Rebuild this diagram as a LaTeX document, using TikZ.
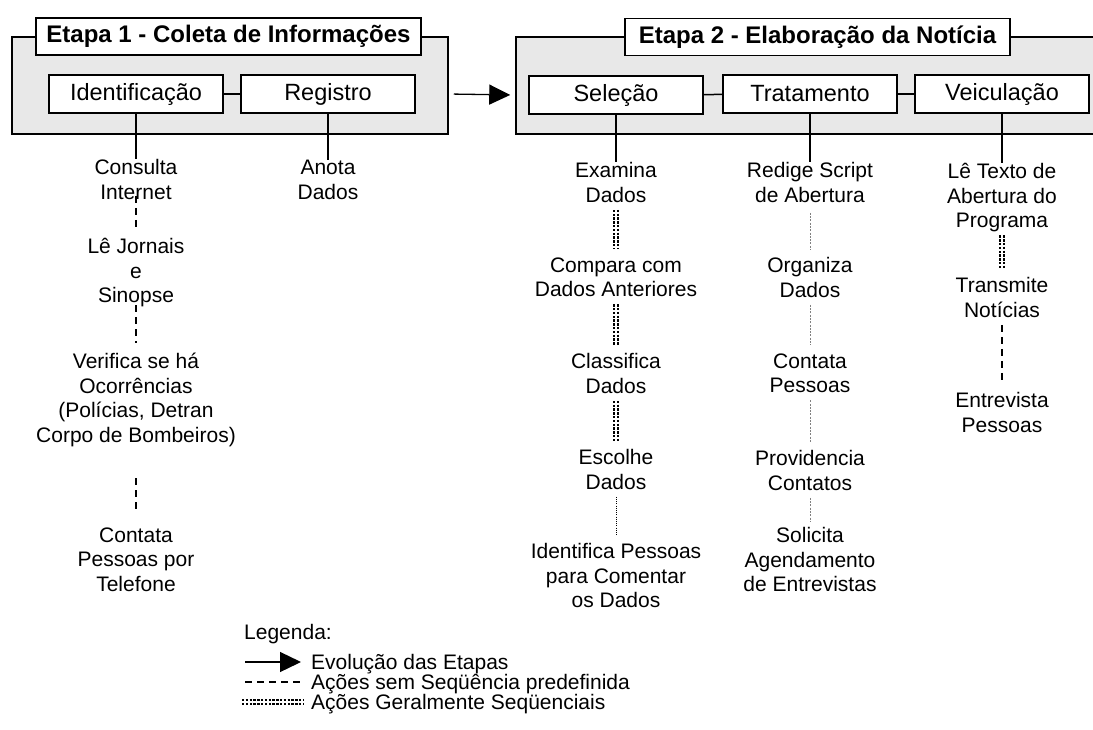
\documentclass[tikz,border=0pt]{standalone}
\usepackage{fontspec}
\setmainfont{Liberation Sans}
\usetikzlibrary{arrows.meta,positioning}
\definecolor{fundo}{RGB}{232,232,232}

\begin{document}
\begin{tikzpicture}[x=1pt,y=-1pt]
		\tikzset{bloco/.style={draw,line width=1.5pt,fill=fundo,inner sep=0pt}}
		\tikzset{titulo/.style={draw,line width=1.5pt,fill=white,minimum width=385pt,minimum height=37pt,inner sep=0pt,font=\fontsize{24}{28}\selectfont\bfseries}}
		\tikzset{fase/.style={draw,line width=1.5pt,fill=white,minimum width=174pt,minimum height=38pt,inner sep=0pt,font=\fontsize{23.5}{28}\selectfont}}
		\tikzset{acao/.style={align=center,anchor=north,inner sep=0pt,yshift=9.7pt,font=\fontsize{21}{24.5}\selectfont,execute at begin node=\strut,execute at end node=\strut}}
		\tikzset{legenda/.style={anchor=west,inner sep=0pt,text height=16pt,text depth=1pt,font=\fontsize{21}{24.5}\selectfont}}
		\tikzset{liga/.style={line width=1.5pt}}
		\tikzset{evolui/.style={line width=1.3pt,-{Triangle[length=21pt,width=20pt]}}}
		\tikzset{livre/.style={line width=1.3pt,dash pattern=on 7pt off 5pt,shorten >=8pt}}
		\tikzset{seq/.style={line width=2.4pt,double=white,double distance=2pt,dash pattern=on 2.4pt off 1.4pt,shorten >=8pt}}
		\tikzset{fino/.style={line width=0.7pt,gray,dash pattern=on 2pt off 1.3pt,shorten >=8pt}}
		\tikzset{ponto/.style={line width=1pt,dash pattern=on 1pt off 1.2pt,shorten >=8pt}}

		\useasboundingbox (0,0) rectangle (1093,729);

		% etapa 1
		\node[bloco,minimum width=436pt,minimum height=97pt] (bloco1) at (230,85.5) {};
		\node[titulo] (et1) at (228.5,36.5) {Etapa 1 - Coleta de Informações};
		\node[fase] (ident) at (136,94) {Identificação};
		\node[fase] (regis) at (328,94) {Registro};

		% etapa 2
		\node[bloco,minimum width=590pt,minimum height=97pt] (bloco2) at (811,85.5) {};
		\node[titulo] (et2) at (817.5,37) {Etapa 2 - Elaboração da Notícia};
		\node[fase] (sel) at (616,95) {Seleção};
		\node[fase] (trat) at (810,94) {Tratamento};
		\node[fase] (veic) at (1002,94) {Veiculação};

		\draw[evolui,shorten <=5pt,shorten >=5pt] (bloco1.east |- regis) -- (bloco2.west |- sel);
		\draw[liga] (ident) -- (regis);
		\draw[liga] (sel) -- (trat);
		\draw[liga] (trat) -- (veic);

		% acoes
		\node[acao] (c1) at (136,169) {Consulta\\Internet};
		\node[acao] (c2) at (136,248) {Lê Jornais\\e\\Sinopse};
		\node[acao] (c3) at (136,363) {Verifica se há\\Ocorrências\\(Polícias, Detran\\Corpo de Bombeiros)};
		\node[acao] (c4) at (136,537) {Contata\\Pessoas por\\Telefone};
		\node[acao] (r1) at (328,170) {Anota\\Dados};

		\node[acao] (s1) at (616,172) {Examina\\Dados};
		\node[acao] (s2) at (616,267) {Compara com\\Dados Anteriores};
		\node[acao] (s3) at (616,363) {Classifica\\Dados};
		\node[acao] (s4) at (616,459) {Escolhe\\Dados};
		\node[acao] (s5) at (616,553) {Identifica Pessoas\\para Comentar\\os Dados};

		\node[acao] (t1) at (810,172) {Redige Script\\de Abertura};
		\node[acao] (t2) at (810,267) {Organiza\\Dados};
		\node[acao] (t3) at (810,363) {Contata\\Pessoas};
		\node[acao] (t4) at (810,460) {Providencia\\Contatos};
		\node[acao] (t5) at (810,537) {Solicita\\Agendamento\\de Entrevistas};

		\node[acao] (v1) at (1002,173) {Lê Texto de\\Abertura do\\Programa};
		\node[acao] (v2) at (1002,287) {Transmite\\Notícias};
		\node[acao] (v3) at (1002,402) {Entrevista\\Pessoas};

		\draw[liga] (ident.south) -- (c1.north);
		\draw[liga] (regis.south) -- (r1.north);
		\draw[liga] (sel.south) -- (s1.north);
		\draw[liga] (trat.south) -- (t1.north);
		\draw[liga] (veic.south) -- (v1.north);

		\draw[livre,shorten <=-11pt] (c1.south) -- (c2.north);
		\draw[livre,shorten <=-5pt,shorten >=10pt] (c2.south) -- (c3.north);
		\draw[livre,shorten <=28pt,shorten >=15pt] (c3.south) -- (c4.north);

		\draw[seq] (s1.south) -- (s2.north);
		\draw[seq] (s2.south) -- (s3.north);
		\draw[seq] (s3.south) -- (s4.north);
		\draw[ponto] (s4.south) -- (s5.north);

		\draw[fino,shorten <=3pt] (t1.south) -- (t2.north);
		\draw[fino] (t2.south) -- (t3.north);
		\draw[fino] (t3.south) -- (t4.north);
		\draw[fino,shorten >=5pt] (t4.south) -- (t5.north);

		\draw[seq] (v1.south) -- (v2.north);
		\draw[livre] (v2.south) -- (v3.north);

		% legenda
		\node[legenda] (leg) at (244,632) {Legenda:};
		\node[legenda] (l1) at (311,662) {Evolução das Etapas};
		\node[legenda] (l2) at (311,682) {Ações sem Seqüência predefinida};
		\node[legenda] (l3) at (311,702) {Ações Geralmente Seqüenciais};
		\coordinate (a1) at (245,662);
		\coordinate (a2) at (245,682);
		\coordinate (a3) at (242,702);
		\draw[evolui,shorten >=10pt] (a1) -- (l1.west);
		\draw[livre] (a2) -- (l2.west);
		\draw[seq] (a3) -- (l3.west);
\end{tikzpicture}
\end{document}
